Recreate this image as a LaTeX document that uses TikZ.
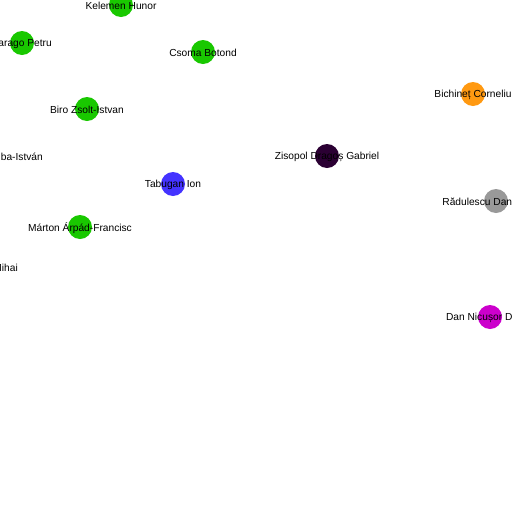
\documentclass[tikz,border=0pt]{standalone}
\usepackage{fontspec}
\setmainfont{Liberation Sans}
\definecolor{cgreen}{RGB}{25,200,0}
\definecolor{cblue}{RGB}{68,51,255}
\definecolor{corange}{RGB}{255,153,17}
\definecolor{cgray}{RGB}{153,153,153}
\definecolor{cmagenta}{RGB}{204,0,204}
\definecolor{cdark}{RGB}{43,0,51}
\begin{document}
\begin{tikzpicture}[x=1pt,y=-1pt,
  dot/.style={circle,fill=#1,draw=none,minimum size=24pt,inner sep=0pt},
  lbl/.style={font=\fontsize{10.2}{12}\selectfont,inner sep=0pt,text=black,yshift=-1pt}]
\useasboundingbox (0,0) rectangle (512,512);
\clip (0,0) rectangle (512,512);
\fill[white] (0,0) rectangle (512,512);
% circles
\node[dot=cgreen] (kel) at (121,5) {};
\node[dot=cgreen] (far) at (22,43) {};
\node[dot=cgreen] (cso) at (203,52) {};
\node[dot=cgreen] (bir) at (87,109) {};
\node[dot=cblue] (tab) at (173,184) {};
\node[dot=cgreen] (mar) at (80,227) {};
\node[dot=cdark] (zis) at (327,156) {};
\node[dot=corange] (bic) at (473,94) {};
\node[dot=cgray] (rad) at (496,201) {};
\node[dot=cmagenta] (dan) at (490,317) {};
% labels
\node[lbl] (lkel) at (kel) {Kelemen Hunor};
\node[lbl] (lfar) at (far) {Farago Petru};
\node[lbl] (lcso) at (cso) {Csoma Botond};
\node[lbl] (lbir) at (bir) {Biro Zsolt-Istvan};
\node[lbl,anchor=east] (lcsi) at (43,156) {ba-István};
\node[lbl] (ltab) at (tab) {Tabugan Ion};
\node[lbl] (lmar) at (mar) {Márton Árpád-Francisc};
\node[lbl,anchor=east] (lmih) at (18,267) {Mihai};
\node[lbl] (lzis) at (zis) {Zisopol Dragoș Gabriel};
\node[lbl] (lbic) at (bic) {Bichineț Corneliu};
\node[lbl] (lrad) at (rad) {Rădulescu Dan Răzvan};
\node[lbl] (ldan) at (dan) {Dan Nicușor Daniel};
\end{tikzpicture}
\end{document}
